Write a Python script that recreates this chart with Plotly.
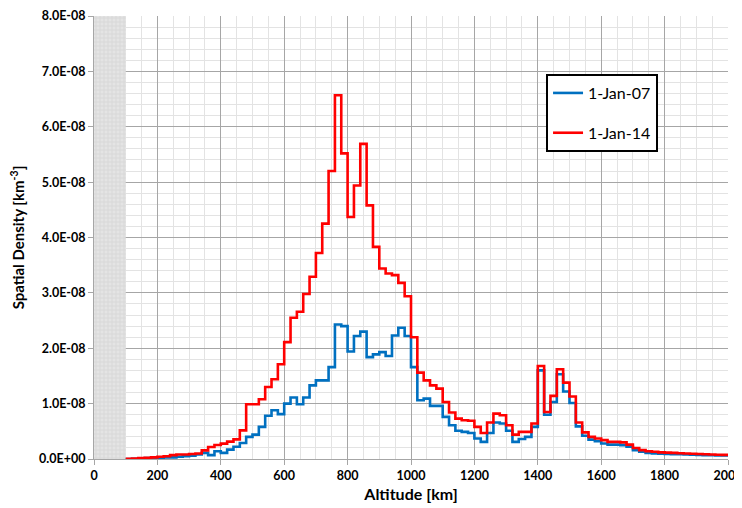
import plotly.graph_objects as go

# ---- data (values in units of 1e-8 km^-3), 20 km bins starting at 100 km ----
BIN_START = 100
BIN_WIDTH = 20

red_2014 = [
    0.005, 0.01, 0.015, 0.02, 0.03, 0.04, 0.05, 0.07, 0.08, 0.08,   # 100-280
    0.09, 0.10, 0.156, 0.217, 0.253, 0.277, 0.313, 0.355, 0.517, 0.99,  # 300-480
    0.99, 1.08, 1.30, 1.44, 1.71, 2.11, 2.55, 2.66, 2.98, 3.29,   # 500-680
    3.72, 4.25, 5.20, 6.57, 5.52, 4.37, 4.94, 5.69, 4.58, 3.83,   # 700-880
    3.44, 3.35, 3.32, 3.18, 2.94, 2.20, 1.56, 1.42, 1.33, 1.27,   # 900-1080
    1.03, 0.84, 0.73, 0.70, 0.69, 0.58, 0.47, 0.66, 0.82, 0.79,   # 1100-1280
    0.61, 0.44, 0.49, 0.49, 0.64, 1.68, 0.85, 1.14, 1.62, 1.38,   # 1300-1480
    1.13, 0.66, 0.48, 0.40, 0.37, 0.34, 0.31, 0.31, 0.30, 0.26,   # 1500-1680
    0.20, 0.16, 0.14, 0.13, 0.12, 0.115, 0.11, 0.105, 0.10, 0.095,  # 1700-1880
    0.09, 0.085, 0.08, 0.078, 0.075,                              # 1900-1980
]

blue_2007 = [
    0.0, 0.005, 0.01, 0.015, 0.02, 0.02, 0.03, 0.03, 0.04, 0.05,  # 100-280
    0.06, 0.08, 0.11, 0.07, 0.14, 0.11, 0.17, 0.22, 0.29, 0.40,   # 300-480
    0.44, 0.58, 0.78, 0.88, 0.81, 1.00, 1.11, 0.99, 1.11, 1.33,   # 500-680
    1.42, 1.42, 1.66, 2.43, 2.40, 1.94, 2.22, 2.30, 1.84, 1.89,   # 700-880
    1.93, 1.86, 2.23, 2.37, 2.22, 1.66, 1.06, 1.09, 0.96, 0.96,   # 900-1080
    0.76, 0.61, 0.51, 0.49, 0.47, 0.37, 0.31, 0.47, 0.66, 0.64,   # 1100-1280
    0.51, 0.31, 0.36, 0.40, 0.58, 1.60, 0.80, 1.03, 1.53, 1.22,   # 1300-1480
    1.01, 0.59, 0.42, 0.35, 0.32, 0.28, 0.26, 0.26, 0.25, 0.22,   # 1500-1680
    0.16, 0.13, 0.11, 0.10, 0.095, 0.09, 0.088, 0.085, 0.08, 0.078,  # 1700-1880
    0.075, 0.07, 0.068, 0.065, 0.062,                             # 1900-1980
]

series_names = ["1-Jan-07", "1-Jan-14"]
y_tick_vals = [0, 1, 2, 3, 4, 5, 6, 7, 8]
y_tick_text = ["0.0E+00", "1.0E-08", "2.0E-08", "3.0E-08", "4.0E-08",
               "5.0E-08", "6.0E-08", "7.0E-08", "8.0E-08"]
x_tick_vals = list(range(0, 2001, 200))
SHADED_RANGE = [0, 100]

assert len(red_2014) == len(blue_2007) == 95

edges = [BIN_START + BIN_WIDTH * i for i in range(len(red_2014) + 1)]


def step_xy(vals):
    return edges, list(vals) + [vals[-1]]


FONT = "Lato, 'Open Sans', sans-serif"

fig = go.Figure()

# shaded band (0-100 km)
fig.add_trace(go.Scatter(
    x=[SHADED_RANGE[0], SHADED_RANGE[1], SHADED_RANGE[1], SHADED_RANGE[0], SHADED_RANGE[0]],
    y=[0, 0, 8, 8, 0],
    fill="toself", mode="none", showlegend=False, hoverinfo="skip",
    fillcolor="#dcdcdc",
    fillpattern=dict(shape="+", size=4, fgcolor="#c4c4c4", bgcolor="#e4e4e4", solidity=0.3),
))

bx, by = step_xy(blue_2007)
fig.add_trace(go.Scatter(x=bx, y=by, mode="lines", line_shape="hv",
                         name=series_names[0], legendgroup="a",
                         line=dict(color="#0070C0", width=2.6)))
rx, ry = step_xy(red_2014)
fig.add_trace(go.Scatter(x=rx, y=ry, mode="lines", line_shape="hv",
                         name=series_names[1], legendgroup="b",
                         line=dict(color="#FF0000", width=2.6)))

fig.update_layout(
    width=742, height=508,
    margin=dict(l=86, r=22, t=8, b=57, autoexpand=False),
    paper_bgcolor="white", plot_bgcolor="white",
    font=dict(family=FONT, color="black"),
    legend=dict(
        x=0.713, y=0.869, xanchor="left", yanchor="top",
        bgcolor="white", bordercolor="black", borderwidth=2,
        font=dict(size=16, family=FONT),
        tracegroupgap=16,
        itemwidth=30,
    ),
    xaxis=dict(
        range=[0, 2000], tickvals=x_tick_vals, automargin=False,
        ticklabeloverflow="allow",
        tickfont=dict(size=12.5, family=FONT, weight="bold"),
        showgrid=True, gridcolor="#a6a6a6", gridwidth=1,
        minor=dict(dtick=50, showgrid=True, gridcolor="#e3e3e3", gridwidth=1),
        showline=True, linecolor="#a6a6a6", mirror=False,
        ticks="outside", ticklen=5, tickcolor="#a6a6a6",
        zeroline=False,
        title=dict(text="Altitude [km]", font=dict(size=16, family=FONT, weight="bold"), standoff=6),
    ),
    yaxis=dict(
        range=[0, 8], tickvals=y_tick_vals, ticktext=y_tick_text, automargin=False,
        ticklabeloverflow="allow",
        tickfont=dict(size=12.5, family=FONT, weight="bold"),
        showgrid=True, gridcolor="#a6a6a6", gridwidth=1,
        minor=dict(dtick=0.2, showgrid=True, gridcolor="#e3e3e3", gridwidth=1),
        showline=True, linecolor="#a6a6a6",
        ticks="outside", ticklen=5, tickcolor="#a6a6a6",
        zeroline=False,
        title=dict(text="Spatial Density [km<sup>-3</sup>]", font=dict(size=15, family=FONT, weight="bold"), standoff=10),
    ),
)

fig.write_html("out.html")
